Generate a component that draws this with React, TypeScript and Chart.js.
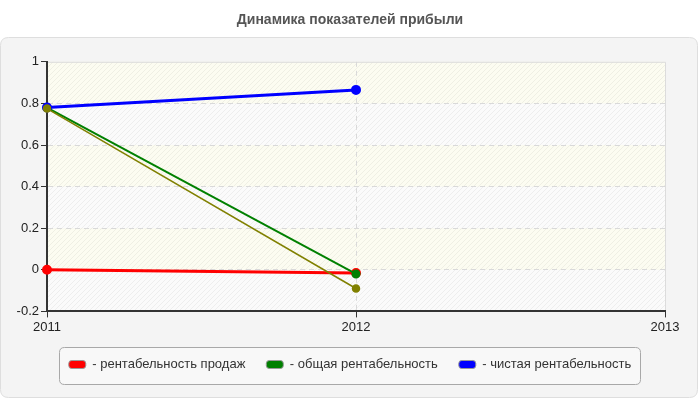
import Chart from "chart.js/auto"
import { FC, useEffect, useRef } from "react"

// years on the x axis and the four series
const years = [2011, 2012]
const salesProfitability = [0, -0.015]
const totalProfitability = [0.78, -0.02]
const netProfitability = [0.78, 0.865]
const extraSeries = [0.775, -0.09]

const seriesLabels = [
    "- рентабельность продаж",
    "- общая рентабельность",
    "- чистая рентабельность",
    ""
]
const chartTitle = "Динамика показателей прибыли"

const toPoints = (values: number[]) => values.map((y, i) => ({ x: years[i], y }))

const near = (a: number, b: number) => Math.abs(a - b) < 1e-6

function makeHatch(ctx: CanvasRenderingContext2D) {
    const c = document.createElement("canvas")
    c.width = 5
    c.height = 5
    const g = c.getContext("2d")!
    g.strokeStyle = "rgba(0,0,0,0.05)"
    g.lineWidth = 1
    for (let i = -1; i <= 1; i++) {
        g.beginPath()
        g.moveTo(i * 5, 5)
        g.lineTo(i * 5 + 5, 0)
        g.stroke()
    }
    return ctx.createPattern(c, "repeat")
}

function roundRect(ctx: CanvasRenderingContext2D, x: number, y: number, w: number, h: number, r: number) {
    ctx.beginPath()
    ctx.moveTo(x + r, y)
    ctx.lineTo(x + w - r, y)
    ctx.quadraticCurveTo(x + w, y, x + w, y + r)
    ctx.lineTo(x + w, y + h - r)
    ctx.quadraticCurveTo(x + w, y + h, x + w - r, y + h)
    ctx.lineTo(x + r, y + h)
    ctx.quadraticCurveTo(x, y + h, x, y + h - r)
    ctx.lineTo(x, y + r)
    ctx.quadraticCurveTo(x, y, x + r, y)
    ctx.closePath()
}

const backgroundPlugin = {
    id: "panelBackground",
    beforeDraw(chart: any) {
        const { ctx, chartArea } = chart
        const yScale = chart.scales.y
        ctx.save()
        // outer panel
        roundRect(ctx, 0.5, 37.5, 697, 360, 8)
        ctx.fillStyle = "#f4f4f4"
        ctx.fill()
        ctx.strokeStyle = "#dedede"
        ctx.lineWidth = 1
        ctx.stroke()

        // alternating bands between y ticks
        const ticks: number[] = yScale.ticks.map((t: any) => t.value)
        for (let i = 0; i < ticks.length - 1; i++) {
            const top = yScale.getPixelForValue(ticks[i + 1])
            const bottom = yScale.getPixelForValue(ticks[i])
            ctx.fillStyle = i % 2 === 0 ? "#fbfbfb" : "#fcfcf1"
            ctx.fillRect(chartArea.left, top, chartArea.right - chartArea.left, bottom - top)
        }
        const hatch = makeHatch(ctx)
        if (hatch) {
            ctx.fillStyle = hatch
            ctx.fillRect(chartArea.left, chartArea.top, chartArea.right - chartArea.left, chartArea.bottom - chartArea.top)
        }

        // top and right edge of the plot
        ctx.strokeStyle = "#dcdcdc"
        ctx.beginPath()
        ctx.moveTo(chartArea.left, chartArea.top + 0.5)
        ctx.lineTo(chartArea.right + 0.5, chartArea.top + 0.5)
        ctx.lineTo(chartArea.right + 0.5, chartArea.bottom)
        ctx.stroke()

        // legend frame
        const boxes = chart.legend?.legendHitBoxes || []
        if (boxes.length) {
            const left = Math.min(...boxes.map((b: any) => b.left)) - 10
            const right = Math.max(...boxes.map((b: any) => b.left + b.width)) + 9
            const mid = boxes[0].top + boxes[0].height / 2
            roundRect(ctx, Math.round(left) + 0.5, Math.round(mid - 18) + 0.5, Math.round(right - left), 37, 5)
            ctx.fillStyle = "#f8f8f8"
            ctx.fill()
            ctx.strokeStyle = "#a8a8a8"
            ctx.stroke()
        }
        ctx.restore()
    }
}

const App: FC = () => {
    const canvasRef = useRef<HTMLCanvasElement>(null)

    useEffect(() => {
        let chart: Chart | null = null
        Chart.defaults.font.family = "'Liberation Sans', Arial, sans-serif"
        Chart.defaults.font.size = 13

        if (canvasRef.current) {
            chart = new Chart(canvasRef.current, {
                type: "line",
                data: {
                    datasets: [
                        {
                            label: seriesLabels[0],
                            data: toPoints(salesProfitability),
                            borderColor: "#ff0000",
                            backgroundColor: "#ff0000",
                            borderWidth: 3,
                            order: 4
                        },
                        {
                            label: seriesLabels[1],
                            data: toPoints(totalProfitability),
                            borderColor: "#008000",
                            backgroundColor: "#008000",
                            borderWidth: 2,
                            order: 3
                        },
                        {
                            label: seriesLabels[2],
                            data: toPoints(netProfitability),
                            borderColor: "#0000ff",
                            backgroundColor: "#0000ff",
                            borderWidth: 3,
                            order: 2
                        },
                        {
                            label: seriesLabels[3],
                            data: toPoints(extraSeries),
                            borderColor: "#808000",
                            backgroundColor: "#808000",
                            borderWidth: 1.5,
                            order: 1
                        }
                    ]
                },
                options: {
                    animation: false,
                    responsive: false,
                    events: [],
                    layout: { padding: { left: 0, right: 0, top: 0, bottom: 19 } },
                    datasets: { line: { clip: false } },
                    elements: {
                        line: { tension: 0 },
                        point: { radius: 3.5, borderWidth: 0, hoverRadius: 3.5 }
                    },
                    scales: {
                        x: {
                            type: "linear",
                            min: 2011,
                            max: 2013,
                            ticks: {
                                stepSize: 1,
                                color: "#222",
                                padding: 2,
                                maxRotation: 0,
                                callback: (v: any) => String(v)
                            },
                            grid: {
                                color: (c: any) =>
                                    c.tick && near(c.tick.value, 2012) ? "#d9d9d9" : "transparent",
                                tickColor: "#333",
                                tickLength: 6,
                                tickBorderDash: []
                            },
                            border: { color: "#333", width: 2, dash: [5, 4] }
                        },
                        y: {
                            min: -0.2,
                            max: 1,
                            ticks: {
                                stepSize: 0.2,
                                color: "#222",
                                padding: 2,
                                callback: (v: any) => String(Number(Number(v).toFixed(1)))
                            },
                            grid: {
                                color: (c: any) =>
                                    c.tick && (near(c.tick.value, 1) || near(c.tick.value, -0.2))
                                        ? "transparent"
                                        : "#d9d9d9",
                                tickColor: "#333",
                                tickLength: 6,
                                tickBorderDash: []
                            },
                            border: { color: "#333", width: 2, dash: [5, 4] },
                            afterFit: (s: any) => {
                                s.width = 47
                            }
                        },
                        spacer: {
                            type: "linear",
                            position: "right",
                            display: true,
                            grid: { display: false },
                            border: { display: false },
                            ticks: { display: false },
                            afterFit: (s: any) => {
                                s.width = 35
                            }
                        }
                    },
                    plugins: {
                        tooltip: { enabled: false },
                        title: {
                            display: true,
                            text: chartTitle,
                            color: "#555",
                            font: { size: 14, weight: "bold" },
                            padding: { top: 12, bottom: 33 }
                        },
                        legend: {
                            position: "bottom",
                            labels: {
                                boxWidth: 17,
                                boxHeight: 8,
                                padding: 21,
                                color: "#333",
                                font: { size: 13 },
                                useBorderRadius: true,
                                borderRadius: 3,
                                filter: (item: any) => item.text !== "",
                                sort: (a: any, b: any) => a.datasetIndex - b.datasetIndex,
                                generateLabels: (c: any) =>
                                    Chart.defaults.plugins.legend.labels
                                        .generateLabels(c)
                                        .map((item: any) => ({
                                            ...item,
                                            strokeStyle: "#999",
                                            lineWidth: 1
                                        }))
                            }
                        }
                    }
                },
                plugins: [backgroundPlugin]
            } as any)
        }

        return () => {
            if (chart) chart.destroy()
        }
    }, [])

    return (
        <canvas
            ref={canvasRef}
            width={700}
            height={400}
            style={{ position: "absolute", left: 0, top: 0 }}
        ></canvas>
    )
}

export default App
